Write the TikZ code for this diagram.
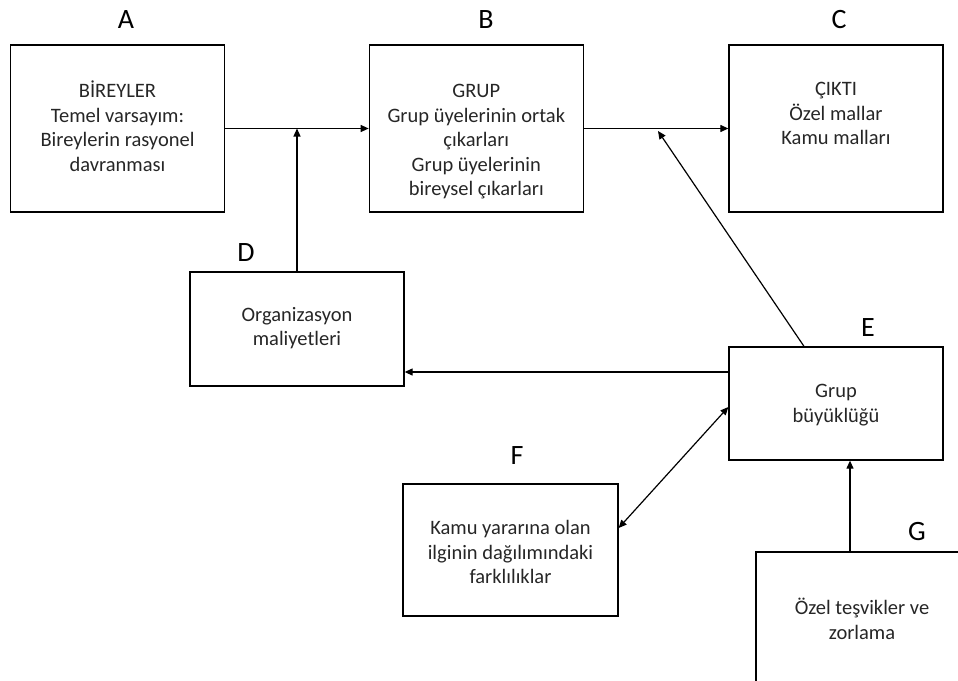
\documentclass[tikz,border=0pt]{standalone}
\usepackage{fontspec}
\setmainfont{Carlito}
\usetikzlibrary{arrows.meta}
\tikzset{
  box/.style={draw=black, line width=1.3pt, rectangle, inner sep=0pt, minimum width=214pt},
  txt/.style={align=center, text=black!85, font=\fontsize{20.5}{24.5}\selectfont, inner sep=0pt},
  lbl/.style={text=black, font=\fontsize{28}{30}\selectfont, inner sep=0pt},
  arr/.style={line width=1.2pt, -{Triangle[length=8pt,width=7pt]}},
  darr/.style={line width=1.2pt, {Triangle[length=8pt,width=7pt]}-{Triangle[length=8pt,width=7pt]}}
}
\begin{document}
\begin{tikzpicture}[x=1pt,y=-1pt]
\useasboundingbox (0,0) rectangle (958,680);
\clip (0,0) rectangle (958,680);
% boxes
\node[box, minimum height=167pt] (A) at (117.5,128.5) {};
\node[box, minimum height=167pt] (B) at (476.3,128.5) {};
\node[box, minimum height=167pt] (C) at (836,128.5) {};
\node[box, minimum height=114pt] (D) at (297,329) {};
\node[box, minimum height=113pt] (E) at (836,403.5) {};
\node[box, minimum height=132pt, minimum width=215pt] (F) at (510.5,550) {};
\node[box, minimum height=134pt, minimum width=212pt] (G) at (862,619) {};
% texts
\node[txt] (At) at (117.5,126) {BİREYLER\\Temel varsayım:\\Bireylerin rasyonel\\davranması};
\node[txt] (Bt) at (476.3,142) {GRUP\\Grup üyelerinin ortak\\çıkarları\\Grup üyelerinin\\bireysel çıkarları};
\node[txt] (Ct) at (836,113.5) {ÇIKTI\\Özel mallar\\Kamu malları};
\node[txt] (Dt) at (297,328) {Organizasyon\\maliyetleri};
\node[txt] (Et) at (836,405) {Grup\\büyüklüğü};
\node[txt] (Ft) at (510.5,552) {Kamu yararına olan\\ilginin dağılımındaki\\farklılıklar};
\node[txt] (Gt) at (862,619) {Özel teşvikler ve\\zorlama};
% labels
\node[lbl] (lA) at (126,20) {A};
\node[lbl] (lB) at (486,20) {B};
\node[lbl] (lC) at (839,20) {C};
\node[lbl] (lD) at (246,253) {D};
\node[lbl] (lE) at (868,328) {E};
\node[lbl] (lF) at (517,456) {F};
\node[lbl] (lG) at (917,532) {G};
% connectors
\draw[arr] (A.east) -- (B.west);
\draw[arr] (B.east) -- (C.west);
\draw[arr] (D.north) -- (D.north |- A.east);
\coordinate (bc) at (658,131);
\draw[arr] ([xshift=-32pt]E.north) -- (bc);
\coordinate (e1) at ([yshift=31.5pt]E.west);
\draw[arr] (e1) -- (e1 -| D.east);
\draw[darr] ([yshift=22pt]F.east) -- ([yshift=-3.5pt]E.west);
\coordinate (g1) at ([xshift=-12pt]G.north);
\draw[arr] (g1) -- (g1 |- E.south);
\end{tikzpicture}
\end{document}
